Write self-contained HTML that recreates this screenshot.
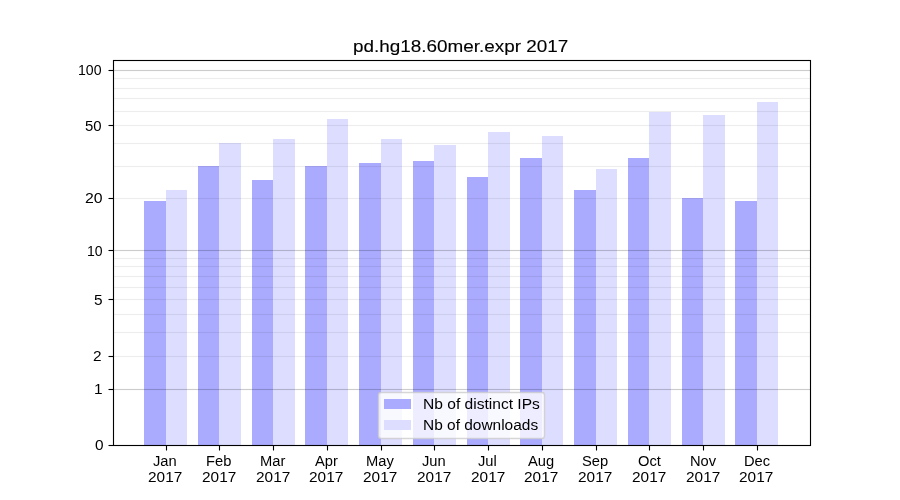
<!DOCTYPE html>
<html lang="en">
<head>
<meta charset="utf-8">
<title>pd.hg18.60mer.expr 2017</title>
<style>
html,body{margin:0;padding:0;background:#ffffff;}
body{position:relative;width:900px;height:500px;overflow:hidden;font-family:"Liberation Sans",sans-serif;color:#000000;}
#plot{position:absolute;left:0;top:0;width:900px;height:500px;}
.t{position:absolute;margin:0;padding:0;white-space:nowrap;line-height:1;font-size:14px;font-weight:normal;transform-origin:0 0;}
.title{font-size:17px;-webkit-text-stroke:0.12px #000000;}
#labels{position:absolute;left:0;top:0;width:900px;height:500px;filter:grayscale(1);}
</style>
</head>
<body>
<svg id="plot" width="900" height="500" viewBox="0 0 900 500">
<rect x="0" y="0" width="900" height="500" fill="#ffffff"/>
<g shape-rendering="crispEdges">
<rect x="144" y="201" width="22" height="244" fill="#aaaaff"/><rect x="166" y="190" width="21" height="255" fill="#ddddff"/>
<rect x="198" y="166" width="21" height="279" fill="#aaaaff"/><rect x="219" y="143" width="22" height="302" fill="#ddddff"/>
<rect x="252" y="180" width="21" height="265" fill="#aaaaff"/><rect x="273" y="139" width="22" height="306" fill="#ddddff"/>
<rect x="305" y="166" width="22" height="279" fill="#aaaaff"/><rect x="327" y="119" width="21" height="326" fill="#ddddff"/>
<rect x="359" y="163" width="22" height="282" fill="#aaaaff"/><rect x="381" y="139" width="21" height="306" fill="#ddddff"/>
<rect x="413" y="161" width="21" height="284" fill="#aaaaff"/><rect x="434" y="145" width="22" height="300" fill="#ddddff"/>
<rect x="467" y="177" width="21" height="268" fill="#aaaaff"/><rect x="488" y="132" width="22" height="313" fill="#ddddff"/>
<rect x="520" y="158" width="22" height="287" fill="#aaaaff"/><rect x="542" y="136" width="21" height="309" fill="#ddddff"/>
<rect x="574" y="190" width="22" height="255" fill="#aaaaff"/><rect x="596" y="169" width="21" height="276" fill="#ddddff"/>
<rect x="628" y="158" width="21" height="287" fill="#aaaaff"/><rect x="649" y="112" width="22" height="333" fill="#ddddff"/>
<rect x="682" y="198" width="21" height="247" fill="#aaaaff"/><rect x="703" y="115" width="22" height="330" fill="#ddddff"/>
<rect x="735" y="201" width="22" height="244" fill="#aaaaff"/><rect x="757" y="102" width="21" height="343" fill="#ddddff"/>
</g>
<g shape-rendering="crispEdges" fill="#000000">
<g fill-opacity="0.2"><rect x="114" y="70" width="696" height="1"/><rect x="114" y="250" width="696" height="1"/><rect x="114" y="389" width="696" height="1"/></g>
<g fill-opacity="0.0118"><rect x="114" y="69" width="696" height="1"/><rect x="114" y="71" width="696" height="1"/><rect x="114" y="249" width="696" height="1"/><rect x="114" y="251" width="696" height="1"/><rect x="114" y="388" width="696" height="1"/><rect x="114" y="390" width="696" height="1"/></g>
<g fill-opacity="0.07"><rect x="114" y="78" width="696" height="1"/><rect x="114" y="88" width="696" height="1"/><rect x="114" y="98" width="696" height="1"/><rect x="114" y="111" width="696" height="1"/><rect x="114" y="125" width="696" height="1"/><rect x="114" y="143" width="696" height="1"/><rect x="114" y="166" width="696" height="1"/><rect x="114" y="198" width="696" height="1"/><rect x="114" y="258" width="696" height="1"/><rect x="114" y="266" width="696" height="1"/><rect x="114" y="276" width="696" height="1"/><rect x="114" y="287" width="696" height="1"/><rect x="114" y="299" width="696" height="1"/><rect x="114" y="314" width="696" height="1"/><rect x="114" y="332" width="696" height="1"/><rect x="114" y="356" width="696" height="1"/></g>
<g fill-opacity="0.0040"><rect x="114" y="77" width="696" height="1"/><rect x="114" y="79" width="696" height="1"/><rect x="114" y="87" width="696" height="1"/><rect x="114" y="89" width="696" height="1"/><rect x="114" y="97" width="696" height="1"/><rect x="114" y="99" width="696" height="1"/><rect x="114" y="110" width="696" height="1"/><rect x="114" y="112" width="696" height="1"/><rect x="114" y="124" width="696" height="1"/><rect x="114" y="126" width="696" height="1"/><rect x="114" y="142" width="696" height="1"/><rect x="114" y="144" width="696" height="1"/><rect x="114" y="165" width="696" height="1"/><rect x="114" y="167" width="696" height="1"/><rect x="114" y="197" width="696" height="1"/><rect x="114" y="199" width="696" height="1"/><rect x="114" y="257" width="696" height="1"/><rect x="114" y="259" width="696" height="1"/><rect x="114" y="265" width="696" height="1"/><rect x="114" y="267" width="696" height="1"/><rect x="114" y="275" width="696" height="1"/><rect x="114" y="277" width="696" height="1"/><rect x="114" y="286" width="696" height="1"/><rect x="114" y="288" width="696" height="1"/><rect x="114" y="298" width="696" height="1"/><rect x="114" y="300" width="696" height="1"/><rect x="114" y="313" width="696" height="1"/><rect x="114" y="315" width="696" height="1"/><rect x="114" y="331" width="696" height="1"/><rect x="114" y="333" width="696" height="1"/><rect x="114" y="355" width="696" height="1"/><rect x="114" y="357" width="696" height="1"/></g>
</g>
<g stroke="#000000" stroke-width="1.111" fill="none">
<g><line x1="166.5" y1="445.5" x2="166.5" y2="450.5"/><line x1="219.5" y1="445.5" x2="219.5" y2="450.5"/><line x1="273.5" y1="445.5" x2="273.5" y2="450.5"/><line x1="327.5" y1="445.5" x2="327.5" y2="450.5"/><line x1="381.5" y1="445.5" x2="381.5" y2="450.5"/><line x1="434.5" y1="445.5" x2="434.5" y2="450.5"/><line x1="488.5" y1="445.5" x2="488.5" y2="450.5"/><line x1="542.5" y1="445.5" x2="542.5" y2="450.5"/><line x1="596.5" y1="445.5" x2="596.5" y2="450.5"/><line x1="649.5" y1="445.5" x2="649.5" y2="450.5"/><line x1="703.5" y1="445.5" x2="703.5" y2="450.5"/><line x1="757.5" y1="445.5" x2="757.5" y2="450.5"/></g>
<g><line x1="108.5" y1="445.5" x2="113.5" y2="445.5"/><line x1="108.5" y1="389.5" x2="113.5" y2="389.5"/><line x1="108.5" y1="356.5" x2="113.5" y2="356.5"/><line x1="108.5" y1="299.5" x2="113.5" y2="299.5"/><line x1="108.5" y1="250.5" x2="113.5" y2="250.5"/><line x1="108.5" y1="198.5" x2="113.5" y2="198.5"/><line x1="108.5" y1="125.5" x2="113.5" y2="125.5"/><line x1="108.5" y1="70.5" x2="113.5" y2="70.5"/></g>
<rect x="113.5" y="60.5" width="697" height="385"/>
</g>
<rect x="378.5" y="392.5" width="166" height="46" rx="2.78" ry="2.78" fill="#ffffff" fill-opacity="0.79" stroke="#cccccc" stroke-opacity="0.8" stroke-width="1.389"/>
<g shape-rendering="crispEdges"><rect x="384" y="399" width="27" height="10" fill="#aaaaff"/><rect x="384" y="420" width="27" height="10" fill="#ddddff"/></g>
</svg>
<div id="labels">
<div class="t title" style="left:353.00px;top:38.00px;transform:scaleX(1.1113)">pd.hg18.60mer.expr 2017</div>
<div class="t" style="left:95.00px;top:438.00px;transform:scaleX(1.1000)">0</div>
<div class="t" style="left:94.00px;top:382.00px;transform:scaleX(1.1000)">1</div>
<div class="t" style="left:93.00px;top:349.00px;transform:scaleX(1.1000)">2</div>
<div class="t" style="left:94.00px;top:293.00px;transform:scaleX(1.1000)">5</div>
<div class="t" style="left:87.00px;top:244.00px;transform:scaleX(1.0020)">10</div>
<div class="t" style="left:85.00px;top:191.00px;transform:scaleX(1.1300)">20</div>
<div class="t" style="left:85.00px;top:119.00px;transform:scaleX(1.0662)">50</div>
<div class="t" style="left:78.00px;top:63.00px;transform:scaleX(1.0072)">100</div>
<div class="t" style="left:153.00px;top:454.00px;transform:scaleX(1.0500)">Jan</div>
<div class="t" style="left:147.50px;top:470.00px;transform:scaleX(1.1000)">2017</div>
<div class="t" style="left:206.00px;top:454.00px;transform:scaleX(1.0500)">Feb</div>
<div class="t" style="left:201.50px;top:470.00px;transform:scaleX(1.1000)">2017</div>
<div class="t" style="left:260.00px;top:454.00px;transform:scaleX(1.0500)">Mar</div>
<div class="t" style="left:255.50px;top:470.00px;transform:scaleX(1.1000)">2017</div>
<div class="t" style="left:314.50px;top:454.00px;transform:scaleX(1.0500)">Apr</div>
<div class="t" style="left:308.50px;top:470.00px;transform:scaleX(1.1000)">2017</div>
<div class="t" style="left:366.00px;top:454.00px;transform:scaleX(1.0500)">May</div>
<div class="t" style="left:362.50px;top:470.00px;transform:scaleX(1.1000)">2017</div>
<div class="t" style="left:422.00px;top:454.00px;transform:scaleX(1.0500)">Jun</div>
<div class="t" style="left:416.50px;top:470.00px;transform:scaleX(1.1000)">2017</div>
<div class="t" style="left:477.50px;top:454.00px;transform:scaleX(1.0500)">Jul</div>
<div class="t" style="left:470.50px;top:470.00px;transform:scaleX(1.1000)">2017</div>
<div class="t" style="left:528.00px;top:454.00px;transform:scaleX(1.0500)">Aug</div>
<div class="t" style="left:523.50px;top:470.00px;transform:scaleX(1.1000)">2017</div>
<div class="t" style="left:581.50px;top:454.00px;transform:scaleX(1.0500)">Sep</div>
<div class="t" style="left:577.50px;top:470.00px;transform:scaleX(1.1000)">2017</div>
<div class="t" style="left:638.00px;top:454.00px;transform:scaleX(1.0500)">Oct</div>
<div class="t" style="left:631.50px;top:470.00px;transform:scaleX(1.1000)">2017</div>
<div class="t" style="left:690.00px;top:454.00px;transform:scaleX(1.0500)">Nov</div>
<div class="t" style="left:685.50px;top:470.00px;transform:scaleX(1.1000)">2017</div>
<div class="t" style="left:744.00px;top:454.00px;transform:scaleX(1.0500)">Dec</div>
<div class="t" style="left:738.50px;top:470.00px;transform:scaleX(1.1000)">2017</div>
<div class="t" style="left:423.00px;top:397.00px;transform:scaleX(1.1126)">Nb of distinct IPs</div>
<div class="t" style="left:423.00px;top:418.00px;transform:scaleX(1.1037)">Nb of downloads</div>
</div>
</body>
</html>
